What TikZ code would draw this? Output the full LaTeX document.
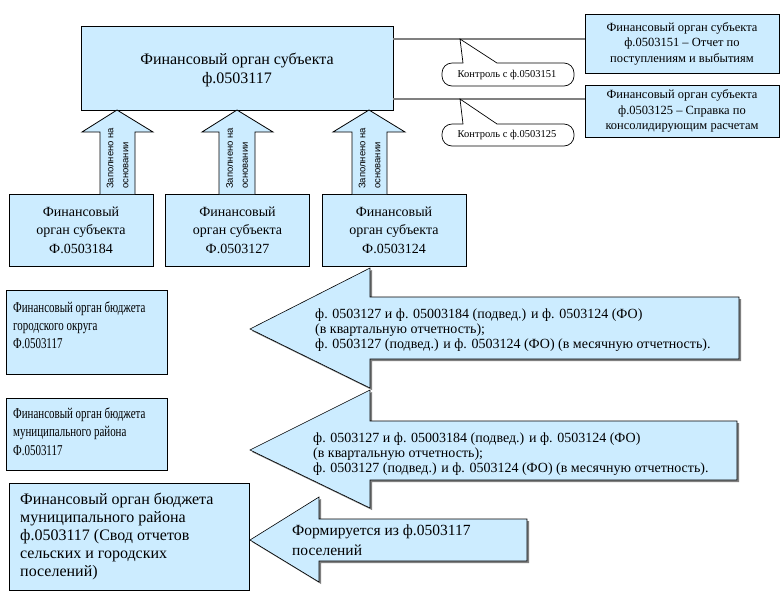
\documentclass[tikz,border=0pt]{standalone}
\usepackage{fontspec}
\setmainfont{Liberation Serif}
\newfontfamily\sansf{Liberation Sans}
\newfontfamily\condserif[FakeStretch=0.73]{Liberation Serif}
\newcommand\myfs[2]{\fontsize{#1}{#2}\selectfont}
\definecolor{boxblue}{RGB}{204,236,255}
\definecolor{linegray}{RGB}{128,128,128}
\tikzset{
  box/.style={draw=black, line width=0.9pt, fill=boxblue, inner sep=0pt},
  conn/.style={draw=linegray, line width=2pt},
  callout/.style={draw=black, line width=0.7pt, fill=white},
  uparrow/.style={draw=black, line width=0.8pt, fill=boxblue},
  bigarrow/.style={draw=black, line width=0.6pt, fill=boxblue},
  shadowarrow/.style={fill=linegray},
  txt/.style={inner sep=0pt, align=left},
}
\begin{document}
\begin{tikzpicture}[x=1pt,y=-1pt]
\useasboundingbox (0,0) rectangle (781,598);
% main box
\node[box, minimum width=312pt, minimum height=84pt] (main) at (237,68) {};
\node[txt, align=center, font=\myfs{16}{19.5}] (maint) at (237,70) {Финансовый орган субъекта\\ф.0503117};
% right boxes
\node[box, minimum width=194pt, minimum height=59pt, align=center, font=\myfs{12.5}{15.5}] (rb1) at (682,43.5) {Финансовый орган субъекта\\ф.0503151 -- Отчет по\\поступлениям и выбытиям};
\node[box, minimum width=194pt, minimum height=52pt, align=center, font=\myfs{12.5}{15.5}] (rb2) at (682,111) {Финансовый орган субъекта\\ф.0503125 -- Справка по\\консолидирующим расчетам};
% connector lines
\coordinate (c1) at (585,39);
\coordinate (c2) at (585,99);
\draw[conn] (main.east |- c1) -- (c1);
\draw[conn] (main.east |- c2) -- (c2);
% callouts
\coordinate (t1) at (460,39);
\coordinate (t2) at (460,99);
\draw[callout] (t1) -- (497,63) [rounded corners=10pt] -- (574,63) -- (574,86) -- (442,86) -- (442,63) [sharp corners] -- (463,63) -- cycle;
\node[txt, font=\myfs{10.5}{12}] (k1) at (507,74.5) {Контроль с ф.0503151};
\draw[callout] (t2) -- (497,124) [rounded corners=10pt] -- (574,124) -- (574,146) -- (442,146) -- (442,124) [sharp corners] -- (463,124) -- cycle;
\node[txt, font=\myfs{10.5}{12}] (k2) at (507,135) {Контроль с ф.0503125};
% small boxes
\node[box, minimum width=144pt, minimum height=72pt, align=center, font=\myfs{14}{18.5}] (s1) at (81,230) {Финансовый\\орган субъекта\\Ф.0503184};
\node[box, minimum width=144pt, minimum height=72pt, align=center, font=\myfs{14}{18.5}] (s2) at (237.5,230) {Финансовый\\орган субъекта\\Ф.0503127};
\node[box, minimum width=144pt, minimum height=72pt, align=center, font=\myfs{14}{18.5}] (s3) at (394,230) {Финансовый\\орган субъекта\\Ф.0503124};
% up arrows
\draw[uparrow] (100,194) -- (100,132) -- (82,132) -- (117,110) -- (153,132) -- (135,132) -- (135,194);
\draw[uparrow] (219,194) -- (219,132) -- (202,132) -- (237,110) -- (273,132) -- (255,132) -- (255,194);
\draw[uparrow] (352,194) -- (352,132) -- (333,132) -- (369,110) -- (405,132) -- (387,132) -- (387,194);
\node[txt, rotate=90, anchor=west, font=\sansf\myfs{9.5}{15}] (v1) at (117.5,189) {Заполнено на\\основании};
\node[txt, rotate=90, anchor=west, font=\sansf\myfs{9.5}{15}] (v2) at (237,189) {Заполнено на\\основании};
\node[txt, rotate=90, anchor=west, font=\sansf\myfs{9.5}{15}] (v3) at (369.5,189) {Заполнено на\\основании};
% left boxes
\node[box, minimum width=161pt, minimum height=84pt] (l1) at (86.5,332) {};
\node[txt, anchor=north west, font=\condserif\myfs{15}{18}] (l1t) at (13,301.5) {Финансовый орган бюджета\\городского округа\\Ф.0503117};
\node[box, minimum width=161pt, minimum height=72pt] (l2) at (86.5,434) {};
\node[txt, anchor=north west, font=\condserif\myfs{15}{18.5}] (l2t) at (13,407.5) {Финансовый орган бюджета\\муниципального района\\Ф.0503117};
\node[box, minimum width=240pt, minimum height=107pt] (l3) at (129,536.5) {};
\node[txt, anchor=north west, font=\myfs{16}{18}] (l3t) at (20,493) {Финансовый орган бюджета\\муниципального района\\ф.0503117 (Свод отчетов\\сельских и городских\\поселений)};
% big arrows
\fill[shadowarrow] (252,331) -- (372,270) -- (372,299) -- (741,299) -- (741,361) -- (372,361) -- (372,390) -- cycle;
\draw[bigarrow] (250,329) -- (370,268) -- (370,297) -- (739,297) -- (739,359) -- (370,359) -- (370,388) -- cycle;
\node[txt, anchor=north west, font=\myfs{14}{15}] (a1t) at (315,308.5) {ф. 0503127 и ф. 05003184 (подвед.) и ф. 0503124 (ФО)\\(в квартальную отчетность);\\ф. 0503127 (подвед.) и ф. 0503124 (ФО) (в месячную отчетность).};
\fill[shadowarrow] (252,452) -- (372,392) -- (372,423) -- (739,423) -- (739,482) -- (372,482) -- (372,510) -- cycle;
\draw[bigarrow] (250,450) -- (370,390) -- (370,421) -- (737,421) -- (737,480) -- (370,480) -- (370,508) -- cycle;
\node[txt, anchor=north west, font=\myfs{14}{15}] (a2t) at (313,432.5) {ф. 0503127 и ф. 05003184 (подвед.) и ф. 0503124 (ФО)\\(в квартальную отчетность);\\ф. 0503127 (подвед.) и ф. 0503124 (ФО) (в месячную отчетность).};
\fill[shadowarrow] (252,542) -- (321,499) -- (321,521) -- (529,521) -- (529,563) -- (321,563) -- (321,584) -- cycle;
\draw[bigarrow] (250,540) -- (319,497) -- (319,519) -- (527,519) -- (527,561) -- (319,561) -- (319,582) -- cycle;
\node[txt, anchor=north west, font=\myfs{15.5}{20}] (a3t) at (292,525) {Формируется из ф.0503117\\поселений};
\end{tikzpicture}
\end{document}
